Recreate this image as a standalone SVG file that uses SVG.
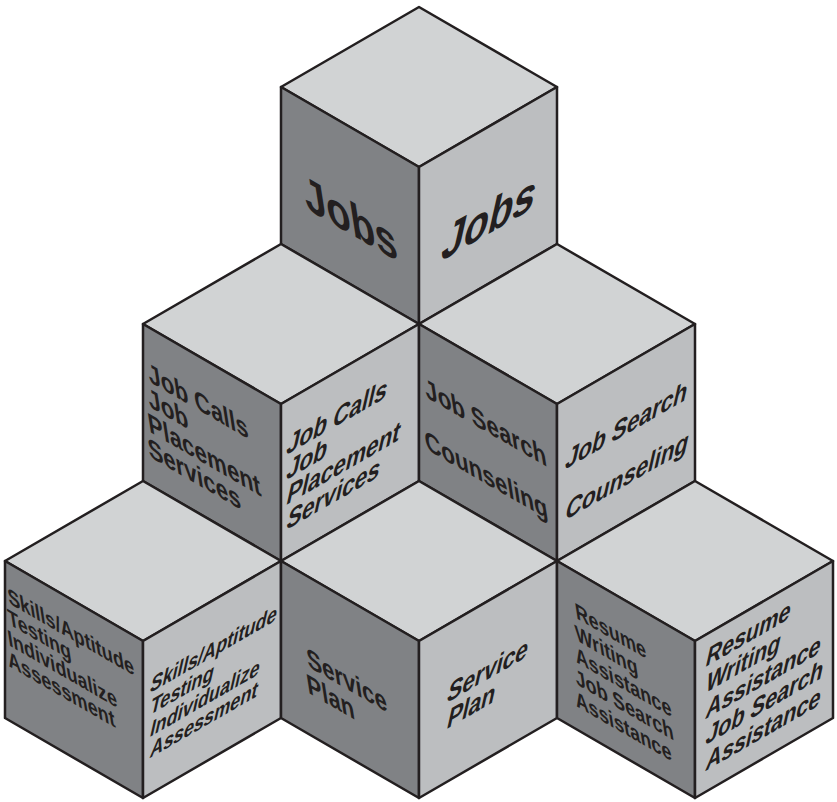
<svg xmlns="http://www.w3.org/2000/svg" xmlns:xlink="http://www.w3.org/1999/xlink" width="837" height="802" viewBox="0 0 837 802">
<style>
.tp{fill:#d1d3d4}
.lf{fill:#808285}
.rt{fill:#bcbec0}
.cube polygon{stroke:#231f20;stroke-width:2.5;stroke-linejoin:round}
.t{font-family:"Liberation Sans",Arial,Helvetica,sans-serif;font-weight:bold;fill:#231f20}
.s46{font-size:46px}
.s26{font-size:26px}
.s25{font-size:25px}
.s21{font-size:21px}
</style>
<defs>
<g id="cube" class="cube">
<polygon class="tp" points="0,0 -138,-80 0,-160 138,-80"/>
<polygon class="lf" points="-138,-80 0,0 0,157 -138,77"/>
<polygon class="rt" points="0,0 138,-80 138,77 0,157"/>
</g>
</defs>
<rect width="837" height="802" fill="#ffffff"/>

<g id="cube-jobs">
<use xlink:href="#cube" href="#cube" x="419" y="167"/>
<g transform="matrix(0.866,0.5,0,1,281,87)">
<text class="t s46" text-anchor="middle" transform="translate(83,107) skewX(11.3)">Jobs</text>
</g>
<g transform="matrix(0.866,-0.5,0,1,419,167)">
<text class="t s46" text-anchor="middle" transform="translate(77,107) skewX(-16.7)">Jobs</text>
</g>
</g>

<g id="cube-job-calls">
<use xlink:href="#cube" href="#cube" x="281" y="404"/>
<g transform="matrix(0.866,0.5,0,1,143,324)">
<text class="t s26" transform="translate(7.5,54) skewX(11.3)">Job Calls</text>
<text class="t s26" transform="translate(7.5,79) skewX(11.3)">Job</text>
<text class="t s26" transform="translate(7.5,104) skewX(11.3)">Placement</text>
<text class="t s26" transform="translate(7.5,129) skewX(11.3)">Services</text>
</g>
<g transform="matrix(0.866,-0.5,0,1,281,404)">
<text class="t s26" transform="translate(5,54) skewX(-16.7)">Job Calls</text>
<text class="t s26" transform="translate(5,79) skewX(-16.7)">Job</text>
<text class="t s26" transform="translate(5,104) skewX(-16.7)">Placement</text>
<text class="t s26" transform="translate(5,129) skewX(-16.7)">Services</text>
</g>
</g>

<g id="cube-job-search">
<use xlink:href="#cube" href="#cube" x="557" y="404"/>
<g transform="matrix(0.866,0.5,0,1,419,324)">
<text class="t s26" transform="translate(8.5,69) skewX(11.3)">Job Search</text>
<text class="t s26" transform="translate(8.5,121) skewX(11.3)">Counseling</text>
</g>
<g transform="matrix(0.866,-0.5,0,1,557,404)">
<text class="t s26" transform="translate(8,70) skewX(-16.7)">Job Search</text>
<text class="t s26" transform="translate(8,121) skewX(-16.7)">Counseling</text>
</g>
</g>

<g id="cube-skills">
<use xlink:href="#cube" href="#cube" x="143" y="641"/>
<g transform="matrix(0.866,0.5,0,1,5,561)">
<text class="t s21" transform="translate(4.5,40) skewX(11.3)">Skills/Aptitude</text>
<text class="t s21" transform="translate(4.5,61) skewX(11.3)">Testing</text>
<text class="t s21" transform="translate(4.5,82) skewX(11.3)">Individualize</text>
<text class="t s21" transform="translate(4.5,103) skewX(11.3)">Assessment</text>
</g>
<g transform="matrix(0.866,-0.5,0,1,143,641)">
<text class="t s21" transform="translate(7,56) skewX(-16.7)">Skills/Aptitude</text>
<text class="t s21" transform="translate(7,78) skewX(-16.7)">Testing</text>
<text class="t s21" transform="translate(7,100) skewX(-16.7)">Individualize</text>
<text class="t s21" transform="translate(7,121) skewX(-16.7)">Assessment</text>
</g>
</g>

<g id="cube-service-plan">
<use xlink:href="#cube" href="#cube" x="419" y="641"/>
<g transform="matrix(0.866,0.5,0,1,281,561)">
<text class="t s26" transform="translate(31.5,90) skewX(11.3)">Service</text>
<text class="t s26" transform="translate(31.5,116) skewX(11.3)">Plan</text>
</g>
<g transform="matrix(0.866,-0.5,0,1,419,641)">
<text class="t s26" transform="translate(31,78) skewX(-16.7)">Service</text>
<text class="t s26" transform="translate(31,104) skewX(-16.7)">Plan</text>
</g>
</g>

<g id="cube-resume">
<use xlink:href="#cube" href="#cube" x="695" y="641"/>
<g transform="matrix(0.866,0.5,0,1,557,561)">
<text class="t s21" transform="translate(22.5,46) skewX(11.3)">Resume</text>
<text class="t s21" transform="translate(22.5,68) skewX(11.3)">Writing</text>
<text class="t s21" transform="translate(22.5,90) skewX(11.3)">Assistance</text>
<text class="t s21" transform="translate(22.5,112) skewX(11.3)">Job Search</text>
<text class="t s21" transform="translate(22.5,134) skewX(11.3)">Assistance</text>
</g>
<g transform="matrix(0.866,-0.5,0,1,695,641)">
<text class="t s25" transform="translate(11,32) skewX(-16.7)">Resume</text>
<text class="t s25" transform="translate(11,58) skewX(-16.7)">Writing</text>
<text class="t s25" transform="translate(11,84) skewX(-16.7)">Assistance</text>
<text class="t s25" transform="translate(11,110) skewX(-16.7)">Job Search</text>
<text class="t s25" transform="translate(11,136) skewX(-16.7)">Assistance</text>
</g>
</g>
</svg>
